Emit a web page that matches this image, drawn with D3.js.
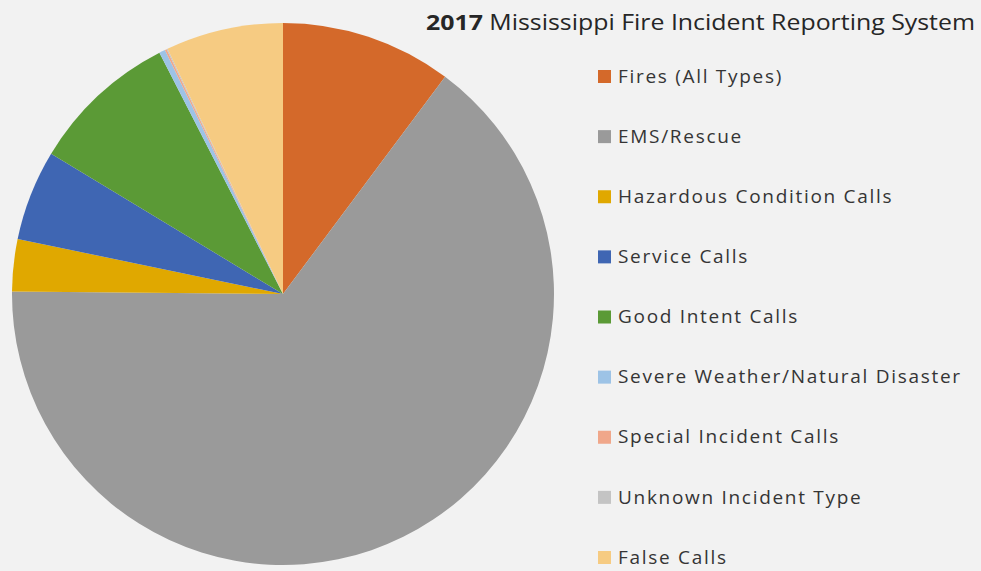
<!DOCTYPE html>
<html>
<head>
<meta charset="utf-8">
<script src="https://cdn.jsdelivr.net/npm/d3@7"></script>
<style>
  body { margin: 0; background: #f2f2f2; }
  svg { display: block; }
  text { font-family: "Open Sans", "DejaVu Sans", sans-serif; fill: #353535; }
</style>
</head>
<body>
<svg id="chart"></svg>
<script>
// 2017 Mississippi Fire Incident Reporting System - share of incidents (%)
const categories = [
    "Fires (All Types)",
    "EMS/Rescue",
    "Hazardous Condition Calls",
    "Service Calls",
    "Good Intent Calls",
    "Severe Weather/Natural Disaster",
    " Special Incident Calls",
    "Unknown Incident Type",
    "False Calls"
];
const values = [10.2, 64.9, 3.1, 5.4, 8.8, 0.36, 0.11, 0.06, 7.0];
const colors = ["#d4692a", "#9a9a9a", "#e0a800", "#3f66b3", "#5b9a36",
                "#9dc3e6", "#f0a78a", "#c4c4c4", "#f6cb82"];
const titleYear = "2017";
const titleRest = " Mississippi Fire Incident Reporting System";

const width = 981;
const height = 571;

const svg = d3.select("#chart").attr("width", width).attr("height", height);

svg.append("rect").attr("width", width).attr("height", height).attr("fill", "#f2f2f2");

const color = d3.scaleOrdinal().domain(categories).range(colors);

const pie = d3.pie().sort(null).value(d => d.value);
const arc = d3.arc().innerRadius(0).outerRadius(271);

const data = categories.map((c, i) => ({ name: c, value: values[i] }));

svg.append("g")
    .attr("transform", "translate(283,294)")
    .selectAll("path")
    .data(pie(data))
    .enter()
    .append("path")
    .attr("d", arc)
    .attr("fill", d => color(d.data.name));

// title
const title = svg.append("text")
    .attr("x", 426)
    .attr("y", 30)
    .attr("font-size", 21)
    .attr("textLength", 549)
    .attr("lengthAdjust", "spacingAndGlyphs")
    .style("fill", "#262626");
title.append("tspan").attr("font-weight", "bold").text(titleYear);
title.append("tspan").text(titleRest);

// legend
const legendY = d3.scalePoint().domain(categories).range([76, 557]);

const legend = svg.append("g")
    .selectAll("g")
    .data(categories)
    .enter()
    .append("g")
    .attr("transform", d => `translate(598,${legendY(d)})`);

legend.append("rect")
    .attr("x", 0)
    .attr("y", -6)
    .attr("width", 13)
    .attr("height", 13)
    .attr("fill", d => color(d));

legend.append("text")
    .attr("x", 20)
    .attr("dy", "0.35em")
    .attr("font-size", 19)
    .attr("letter-spacing", "1.7px")
    .text(d => d);
</script>
</body>
</html>
